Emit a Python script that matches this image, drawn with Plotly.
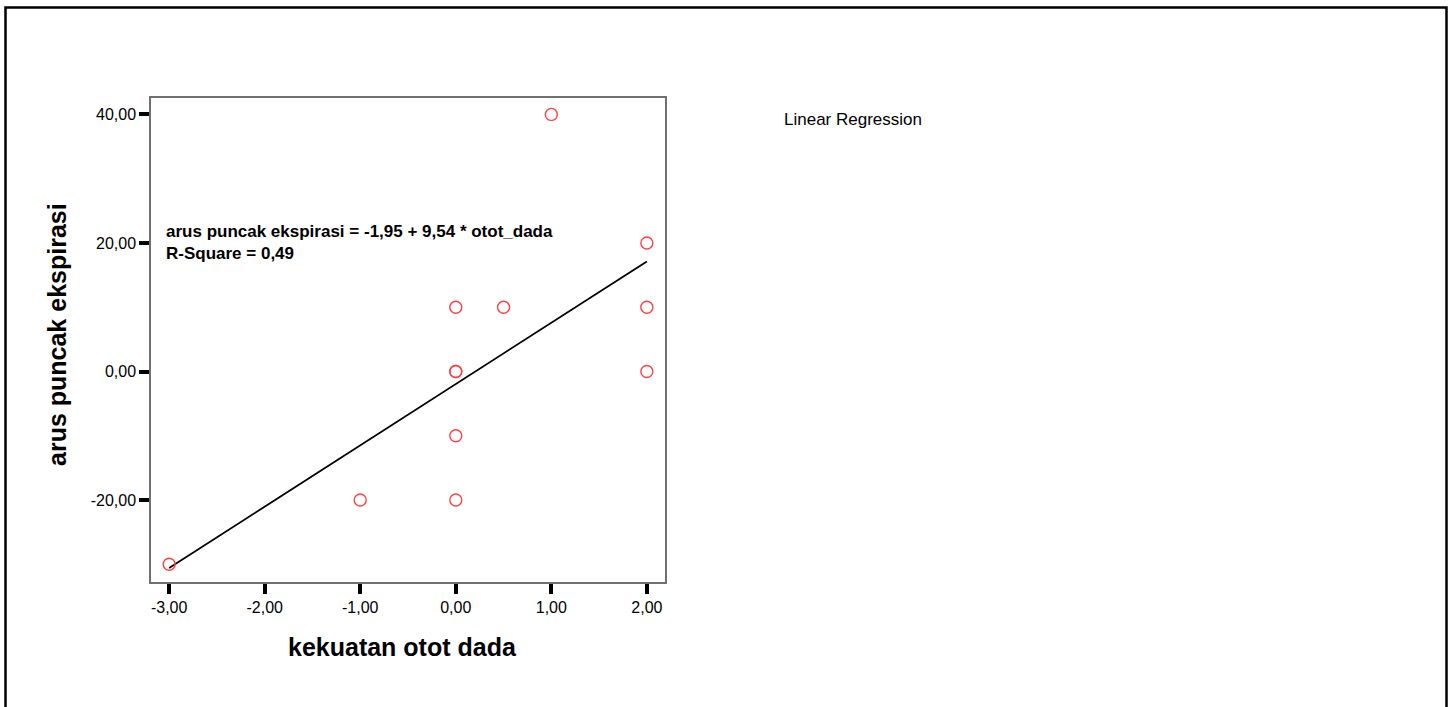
import numpy as np
import plotly.graph_objects as go

# observations: chest muscle strength vs. peak expiratory flow
otot_dada = [-3, -1, 0, 0, 0, 0, 0, 0.5, 1, 2, 2, 2]
arus_puncak = [-30, -20, -20, -10, 0, 0, 10, 10, 40, 0, 10, 20]

# fitted linear regression
intercept = -1.95
slope = 9.54
r_square = 0.49

x_ticks = [-3, -2, -1, 0, 1, 2]
x_ticklabels = ["-3,00", "-2,00", "-1,00", "0,00", "1,00", "2,00"]
y_ticks = [-20, 0, 20, 40]
y_ticklabels = ["-20,00", "0,00", "20,00", "40,00"]

W, H = 1455, 707
L, R, T, B = 151, 665, 98, 582  # plot area in pixels


def px(x):
    return (x - L) / (R - L)


def py(y):
    return (B - y) / (B - T)


FONT = "Liberation Sans, Arial, Helvetica, sans-serif"

fit_x = np.array([min(otot_dada), max(otot_dada)], dtype=float)
fit_y = intercept + slope * fit_x

fig = go.Figure()
fig.add_trace(go.Scatter(
    x=fit_x, y=fit_y, mode="lines",
    line=dict(color="black", width=1.8),
    hoverinfo="skip", showlegend=False,
))
fig.add_trace(go.Scatter(
    x=otot_dada, y=arus_puncak, mode="markers",
    marker=dict(symbol="circle-open", size=12, color="#ff4040",
                line=dict(width=1.4, color="#ff4040")),
    showlegend=False,
))

fmt = lambda v: f"{v:.2f}".replace(".", ",")
eq_text = (f"<b>arus puncak ekspirasi = {fmt(intercept)} + {fmt(slope)} * otot_dada</b><br>"
           f"<b>R-Square = {fmt(r_square)}</b>")

fig.update_layout(
    width=W, height=H,
    margin=dict(l=L, r=W - R, t=T, b=H - B),
    paper_bgcolor="white", plot_bgcolor="white",
    font=dict(family=FONT, color="black"),
    xaxis=dict(
        range=[-3.19, 2.19], tickvals=x_ticks, ticktext=x_ticklabels,
        ticks="outside", ticklen=10, tickwidth=3.5, tickcolor="black",
        tickfont=dict(size=16, family=FONT),
        showgrid=False, zeroline=False,
        showline=True, mirror=True, linecolor="#707070", linewidth=1.5,
    ),
    yaxis=dict(
        range=[-32.75, 42.55], tickvals=y_ticks, ticktext=y_ticklabels,
        ticks="outside", ticklen=10, tickwidth=3.5, tickcolor="black",
        tickfont=dict(size=16, family=FONT),
        showgrid=False, zeroline=False,
        showline=True, mirror=True, linecolor="#707070", linewidth=1.5,
    ),
    annotations=[
        dict(text=eq_text, xref="paper", yref="paper",
             x=px(164), y=py(242), xanchor="left", yanchor="middle",
             align="left", showarrow=False, font=dict(size=17, family=FONT)),
        dict(text="<b>arus puncak ekspirasi</b>", xref="paper", yref="paper",
             x=px(57), y=py(335), xanchor="center", yanchor="middle",
             textangle=-90, showarrow=False, font=dict(size=25, family=FONT)),
        dict(text="<b>kekuatan otot dada</b>", xref="paper", yref="paper",
             x=px(402.5), y=py(647), xanchor="center", yanchor="middle",
             showarrow=False, font=dict(size=25, family=FONT)),
        dict(text="Linear Regression", xref="paper", yref="paper",
             x=px(782), y=py(119), xanchor="left", yanchor="middle",
             showarrow=False, font=dict(size=17, family=FONT)),
    ],
    shapes=[
        dict(type="rect", xref="paper", yref="paper",
             x0=px(5.5), x1=px(1446.5), y0=py(720), y1=py(7.5),
             line=dict(color="black", width=2.5), fillcolor="rgba(0,0,0,0)",
             layer="below"),
    ],
)

fig.write_html("out.html")
